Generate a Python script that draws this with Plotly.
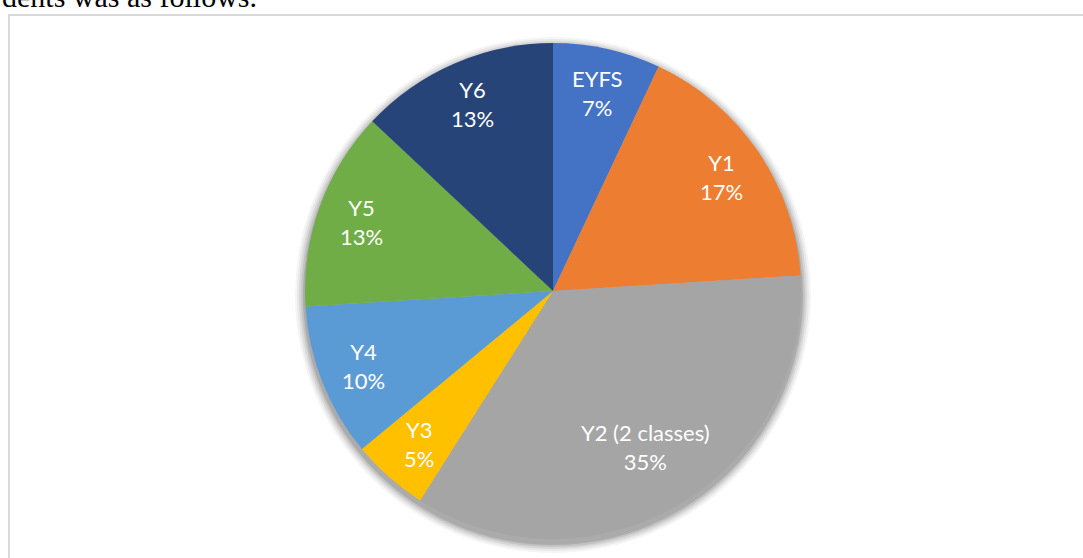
import math

import plotly.graph_objects as go

# class sizes (percent of pupils)
year_groups = ["EYFS", "Y1", "Y2 (2 classes)", "Y3", "Y4", "Y5", "Y6"]
shares = [7, 17, 35, 5, 10, 13, 13]
slice_colors = ["#4472C4", "#ED7D31", "#A5A5A5", "#FFC000", "#5B9BD5", "#70AD47", "#264478"]

W, H = 1083, 558
cx, cy, r = 553, 291, 248


def px_x(x):
    return x / W


def px_y(y):
    return 1 - y / H


fig = go.Figure()
fig.add_trace(
    go.Pie(
        labels=year_groups,
        values=shares,
        sort=False,
        direction="clockwise",
        rotation=0,
        marker=dict(colors=slice_colors, line=dict(width=0)),
        textinfo="none",
        hoverinfo="label+percent",
        showlegend=False,
        domain=dict(x=[px_x(cx - r), px_x(cx + r)], y=[px_y(cy + r), px_y(cy - r)]),
    )
)

# data labels placed like Excel's best fit, along each slice's mid angle
label_radius = {"Y2 (2 classes)": 0.73}
annotations = []
total = sum(shares)
cum = 0
for name, val in zip(year_groups, shares):
    theta = 2 * math.pi * (cum + val / 2) / total
    cum += val
    k = label_radius.get(name, 0.82) * r
    lx = cx + k * math.sin(theta)
    ly = cy - k * math.cos(theta)
    annotations.append(
        dict(text=f"{name}<br>{round(100 * val / total)}%", xref="paper", yref="paper",
             x=px_x(lx), y=px_y(ly), xanchor="center", yanchor="middle",
             showarrow=False, align="center",
             font=dict(family="Lato", size=22, color="white"))
    )

annotations.append(
    dict(text="dents was as follows.", xref="paper", yref="paper",
         x=px_x(0), y=1 + 22 / H, xanchor="left", yanchor="top", showarrow=False,
         font=dict(family="Liberation Serif", size=30, color="black"))
)

shapes = [
    # chart frame
    dict(type="rect", xref="paper", yref="paper", x0=px_x(9), x1=1.01,
         y0=-0.01, y1=px_y(15), line=dict(color="#d9d9d9", width=2), layer="below"),
]
# soft shadow round the pie, a little lower than the pie
for grow, op in [(10, 0.04), (8, 0.05), (6, 0.07), (4, 0.09), (2, 0.12)]:
    shapes.append(
        dict(type="circle", xref="paper", yref="paper",
             x0=px_x(cx - r - grow), x1=px_x(cx + r + grow),
             y0=px_y(cy + r + grow + 4), y1=px_y(cy - r - grow + 4),
             fillcolor=f"rgba(0,0,0,{op})", line=dict(width=0), layer="below")
    )

fig.update_layout(
    width=W,
    height=H,
    margin=dict(l=0, r=0, t=0, b=0),
    paper_bgcolor="white",
    plot_bgcolor="white",
    shapes=shapes,
    annotations=annotations,
)

# drop the page's default body margin so the figure fills the window
fig.write_html(
    "out.html",
    config={"displayModeBar": False},
    post_script="document.body.style.margin = '0';",
)
